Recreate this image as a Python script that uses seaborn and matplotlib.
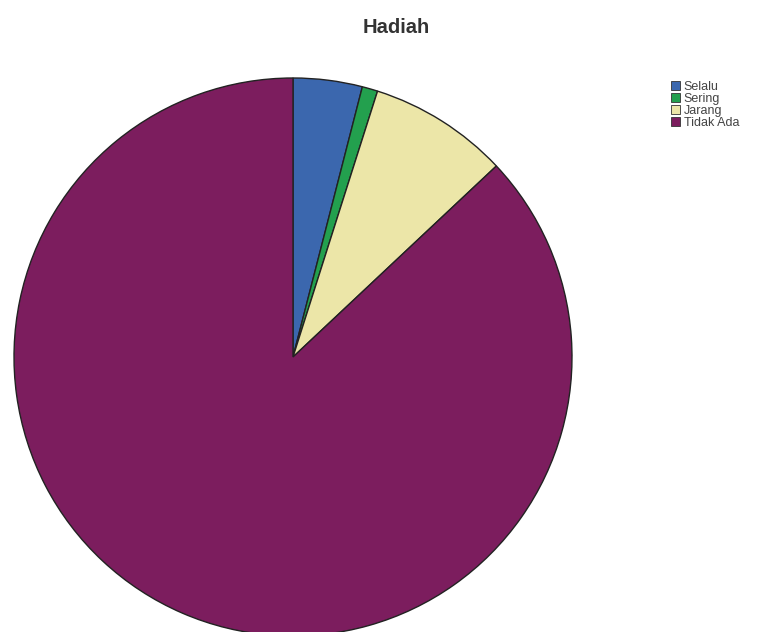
import matplotlib
matplotlib.use("Agg")
import matplotlib.pyplot as plt
import seaborn as sns
from matplotlib.patches import Patch

sns.set_theme(style="white")
plt.rcParams["font.family"] = ["Liberation Sans", "DejaVu Sans"]

categories = ["Selalu", "Sering", "Jarang", "Tidak Ada"]
percentages = [4.0, 0.9, 8.1, 87.0]
colors = ["#3b67ae", "#23a04e", "#ece6a8", "#7c1d5e"]

W, H = 762, 632
fig = plt.figure(figsize=(W / 100, H / 100), dpi=100)
fig.patch.set_facecolor("white")

# pie axes: centre (293, 357) px, radius 279 px
cx, cy, r = 293, 357, 279
ax = fig.add_axes([(cx - r) / W, (H - cy - r) / H, 2 * r / W, 2 * r / H])
ax.pie(percentages, colors=colors, startangle=90, counterclock=False,
       radius=1.0, wedgeprops=dict(edgecolor="#222222", linewidth=1.0))
ax.set_xlim(-1, 1)
ax.set_ylim(-1, 1)
ax.set_aspect("equal")
ax.axis("off")

fig.text(396 / W, 1 - 33 / H, "Hadiah", ha="center", va="baseline",
         fontsize=14.5, fontweight="bold", color="#333333")

handles = [Patch(facecolor=c, edgecolor="#333333", linewidth=0.6) for c in colors]
leg = fig.legend(handles, categories, loc="upper left",
                 bbox_to_anchor=(671 / W, 1 - 81 / H), frameon=False,
                 fontsize=9, handlelength=0.7, handleheight=0.7,
                 handletextpad=0.3, labelspacing=0.0, borderpad=0,
                 borderaxespad=0)
for t in leg.get_texts():
    t.set_color("#444444")

fig.savefig("out.png", dpi=100, facecolor="white")
